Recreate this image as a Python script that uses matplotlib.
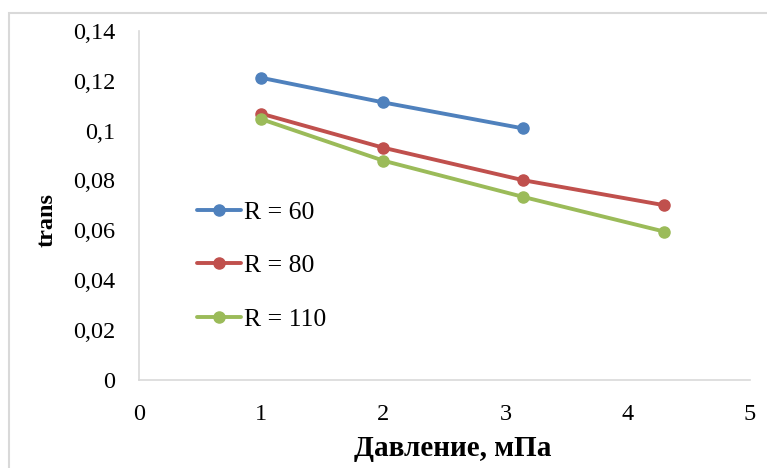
import matplotlib
matplotlib.use("Agg")
import matplotlib.pyplot as plt
from matplotlib.patches import Rectangle

# Data: transmission vs pressure for three radii
pressure_60 = [1.0, 2.0, 3.14]
trans_60 = [0.1212, 0.1113, 0.1009]

pressure_80 = [1.0, 2.0, 3.14, 4.30]
trans_80 = [0.1068, 0.0931, 0.0801, 0.0700]

pressure_110 = [1.0, 2.0, 3.14, 4.30]
trans_110 = [0.1046, 0.0879, 0.0734, 0.0594]

series_labels = ["R = 60", "R = 80", "R = 110"]
series_colors = ["#4F81BD", "#C0504D", "#9BBB59"]

x_ticks = [0, 1, 2, 3, 4, 5]
y_ticks = [0, 0.02, 0.04, 0.06, 0.08, 0.10, 0.12, 0.14]
y_tick_labels = ["0", "0,02", "0,04", "0,06", "0,08", "0,1", "0,12", "0,14"]

plt.rcParams["font.family"] = ["Liberation Serif", "DejaVu Serif"]

W, H = 767, 468
fig = plt.figure(figsize=(W / 100, H / 100), dpi=100)

# Outer chart frame
fig.patches.append(Rectangle((9 / W, -0.1), 1.2, 1 - 13 / H + 0.1,
                             transform=fig.transFigure, fill=False,
                             edgecolor="#D9D9D9", linewidth=1.5))

ax = fig.add_axes([139 / W, 1 - 379.5 / H, (750 - 139) / W, (379.5 - 31) / H])

for xs, ys, lab, col in zip([pressure_60, pressure_80, pressure_110],
                            [trans_60, trans_80, trans_110],
                            series_labels, series_colors):
    ax.plot(xs, ys, color=col, linewidth=2.8, marker="o", markersize=8,
            label=lab, solid_capstyle="round")

ax.set_xlim(0, 5)
ax.set_ylim(0, 0.14)
ax.set_xticks(x_ticks)
ax.set_xticklabels([str(v) for v in x_ticks])
ax.set_yticks(y_ticks)
ax.set_yticklabels(y_tick_labels)
ax.tick_params(axis="both", length=0, labelsize=17.5, colors="#000000")
ax.tick_params(axis="x", pad=18)
ax.tick_params(axis="y", pad=17)

for side in ["top", "right"]:
    ax.spines[side].set_visible(False)
for side in ["left", "bottom"]:
    ax.spines[side].set_color("#D9D9D9")
    ax.spines[side].set_linewidth(1.2)

ax.set_xlabel("Давление, мПа", fontsize=21, fontweight="bold")
ax.xaxis.set_label_coords(0.514, -0.16)
ax.set_ylabel("trans", fontsize=17.5, fontweight="bold")
ax.yaxis.set_label_coords(-0.133, 0.458)

ax.legend(loc="upper left", bbox_to_anchor=(0.095, 0.513), frameon=False,
          fontsize=18.5, handlelength=1.71, handletextpad=0.1,
          labelspacing=1.19, borderpad=0, borderaxespad=0)

fig.savefig("out.png", dpi=100)
